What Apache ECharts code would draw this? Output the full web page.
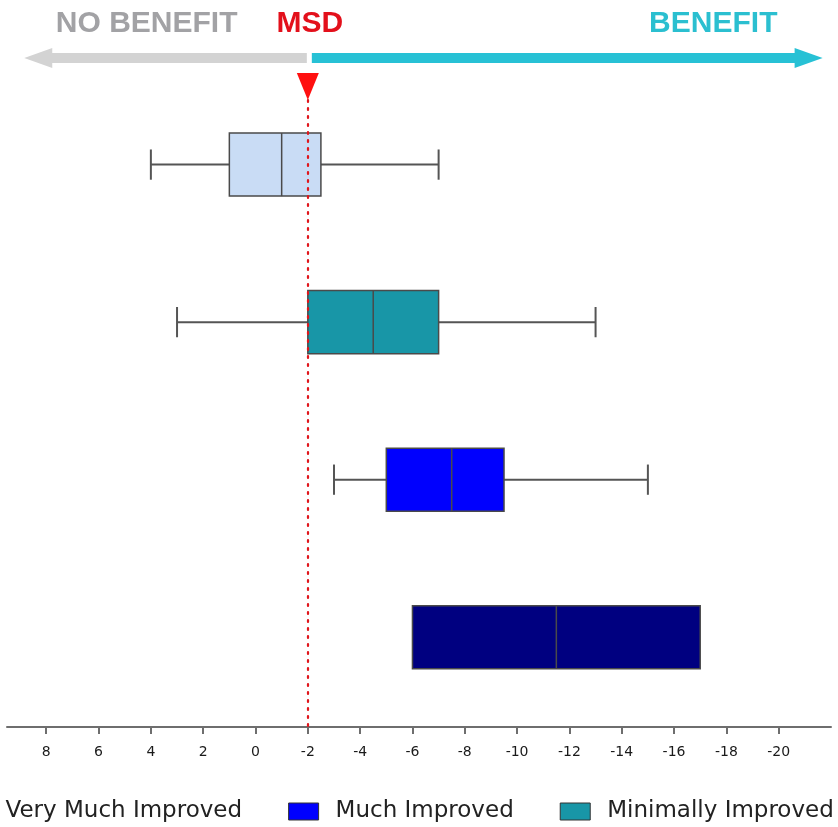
<!DOCTYPE html>
<html>
<head>
<meta charset="utf-8">
<script src="https://cdn.jsdelivr.net/npm/echarts@6/dist/echarts.min.js"></script>
<style>html,body{margin:0;padding:0;background:#fff;}#c{width:838px;height:827px;}</style>
</head>
<body>
<div id="c"></div>
<script>
// ---- data ----
const categories = ['No Change', 'Minimally Improved', 'Much Improved', 'Very Much Improved'];
const mins    = [-7,  -13, -15,  -17];
const q1s     = [-2.5, -7, -9.5, -17];
const medians = [-1, -4.5, -7.5, -11.5];
const q3s     = [1,   -2,  -5,   -6];
const maxs    = [4,    3,  -3,   -6];
const tickValues = [8, 6, 4, 2, 0, -2, -4, -6, -8, -10, -12, -14, -16, -18, -20];
const legendNames = ['Very Much Improved', 'Much Improved', 'Minimally Improved'];
const msdValue = -2;
const arrowLeftValue = 8.84;
const arrowRightValue = -21.68;
const noBenefitCenter = 4.16;
const benefitCenter = -17.5;

const colors = {
  'No Change': '#c9dcf5',
  'Minimally Improved': '#1896a7',
  'Much Improved': '#0000fe',
  'Very Much Improved': '#000080'
};

const chart = echarts.init(document.getElementById('c'), null, {renderer: 'canvas'});

function renderBox(params, api) {
  const y = api.value(0);
  const mn = api.value(1), q1 = api.value(2), md = api.value(3), q3 = api.value(4), mx = api.value(5);
  const h = api.size([0, 0.4])[1];
  const capH = h * 0.48;
  const c = api.coord([0, y])[1];
  const px = v => api.coord([v, y])[0];
  const stroke = '#555555';
  const children = [];
  const wl = {stroke: stroke, lineWidth: 2};
  if (mx !== q3) {
    children.push({type: 'line', shape: {x1: px(mx), y1: c, x2: px(q3), y2: c}, style: wl});
    children.push({type: 'line', shape: {x1: px(mx), y1: c - capH / 2, x2: px(mx), y2: c + capH / 2}, style: wl});
  }
  if (mn !== q1) {
    children.push({type: 'line', shape: {x1: px(q1), y1: c, x2: px(mn), y2: c}, style: wl});
    children.push({type: 'line', shape: {x1: px(mn), y1: c - capH / 2, x2: px(mn), y2: c + capH / 2}, style: wl});
  }
  const xa = Math.min(px(q3), px(q1)), xb = Math.max(px(q3), px(q1));
  children.push({type: 'rect', shape: {x: xa, y: c - h / 2, width: xb - xa, height: h},
    style: {fill: api.visual('color'), stroke: '#4a4a4a', lineWidth: 1.5}});
  children.push({type: 'line', shape: {x1: px(md), y1: c - h / 2, x2: px(md), y2: c + h / 2},
    style: {stroke: '#4a4a4a', lineWidth: 1.5}});
  return {type: 'group', children: children};
}

const series = categories.map((name, i) => ({
  name: name,
  type: 'custom',
  z: 3,
  itemStyle: {color: colors[name], borderColor: '#333', borderWidth: 1},
  renderItem: renderBox,
  encode: {x: [1, 2, 3, 4, 5], y: 0},
  data: [[i, mins[i], q1s[i], medians[i], q3s[i], maxs[i]]],
  silent: true
}));

series.push({
  name: 'MSD',
  type: 'line',
  data: [],
  z: 1,
  markLine: {
    silent: true,
    symbol: ['none', 'none'],
    label: {show: false},
    lineStyle: {color: '#e0161c', type: [2, 6], width: 2.2, cap: 'round'},
    data: [{xAxis: msdValue}]
  }
});

chart.setOption({
  animation: false,
  backgroundColor: '#ffffff',
  grid: {left: 7, right: 7, top: 100, bottom: 100, containLabel: false},
  xAxis: {
    type: 'value',
    inverse: true,
    min: -22,
    max: 9.5,
    position: 'bottom',
    axisLine: {show: true, onZero: false, lineStyle: {color: '#6e6e6e', width: 2}},
    axisTick: {show: true, customValues: tickValues, length: 7, lineStyle: {color: '#6e6e6e', width: 2}},
    axisLabel: {customValues: tickValues, color: '#1a1a1a', fontSize: 14, fontFamily: 'DejaVu Sans', margin: 18},
    splitLine: {show: false}
  },
  yAxis: {
    type: 'value',
    inverse: true,
    min: -0.41,
    max: 3.57,
    show: false
  },
  legend: {
    data: legendNames.map(n => ({name: n, icon: 'rect'})),
    left: -47,
    top: 795,
    width: 1200,
    itemWidth: 30,
    itemHeight: 17,
    itemGap: 46,
    selectedMode: false,
    itemStyle: {borderColor: '#333', borderWidth: 1},
    textStyle: {fontFamily: 'DejaVu Sans', fontSize: 23, color: '#222', padding: [0, 0, 0, 12]}
  },
  series: series
});

const pxOf = v => chart.convertToPixel({xAxisIndex: 0}, v);
const pM = pxOf(msdValue);
const pL = pxOf(arrowLeftValue);
const pR = pxOf(arrowRightValue);
const yA = 58;
const head = 28, hh = 10, sh = 5;
chart.setOption({
  graphic: [
    {type: 'polygon', silent: true, shape: {points: [[pL, yA], [pL + head, yA - hh], [pL + head, yA - sh], [pM - 1, yA - sh], [pM - 1, yA + sh], [pL + head, yA + sh], [pL + head, yA + hh]]},
      style: {fill: '#d3d3d3'}},
    {type: 'polygon', silent: true, shape: {points: [[pR, yA], [pR - head, yA - hh], [pR - head, yA - sh], [pM + 4, yA - sh], [pM + 4, yA + sh], [pR - head, yA + sh], [pR - head, yA + hh]]},
      style: {fill: '#27c1d5'}},
    {type: 'polygon', silent: true, shape: {points: [[pM - 11, 73], [pM + 11, 73], [pM, 100]]}, style: {fill: '#ff1010'}},
    {type: 'text', silent: true, x: pxOf(noBenefitCenter), y: 24, style: {text: 'NO BENEFIT', fill: '#a2a2a5', font: 'bold 30px "Liberation Sans", Arial, sans-serif', align: 'center', verticalAlign: 'middle'}},
    {type: 'text', silent: true, x: pM + 2, y: 24, style: {text: 'MSD', fill: '#e3101b', font: 'bold 30px "Liberation Sans", Arial, sans-serif', align: 'center', verticalAlign: 'middle'}},
    {type: 'text', silent: true, x: pxOf(benefitCenter), y: 24, style: {text: 'BENEFIT', fill: '#2bbfd0', font: 'bold 30px "Liberation Sans", Arial, sans-serif', align: 'center', verticalAlign: 'middle'}}
  ]
});
</script>
</body>
</html>
